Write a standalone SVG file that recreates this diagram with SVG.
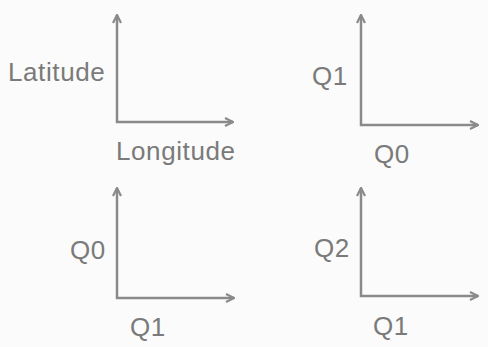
<svg xmlns="http://www.w3.org/2000/svg" width="488" height="347" viewBox="0 0 488 347">
<style>
.lbl{font-family:"Liberation Sans",Arial,sans-serif;font-size:26px;fill:#7a7a7a;letter-spacing:0.6px}
.ax{fill:none;stroke:#8a8a8a;stroke-width:2.5}
</style>
<defs>
<marker id="ah" viewBox="0 0 10 10" refX="9" refY="5" markerWidth="4" markerHeight="4" orient="auto-start-reverse" markerUnits="strokeWidth">
<path d="M1,1 L9,5 L1,9" fill="none" stroke="#8a8a8a" stroke-width="2.2" stroke-linejoin="miter"/>
</marker>
</defs>
<rect width="488" height="347" fill="#fbfbfb"/>
<g id="connectors">
<path class="ax" d="M117,15 V122 H233" marker-start="url(#ah)" marker-end="url(#ah)"/>
<path class="ax" d="M361,15 V125 H478" marker-start="url(#ah)" marker-end="url(#ah)"/>
<path class="ax" d="M117,188 V298 H234" marker-start="url(#ah)" marker-end="url(#ah)"/>
<path class="ax" d="M361,188 V296 H478" marker-start="url(#ah)" marker-end="url(#ah)"/>
</g>
<g id="plot1">
<text class="lbl" x="8" y="81">Latitude</text>
<text class="lbl" x="116" y="160">Longitude</text>
</g>
<g id="plot2">
<text class="lbl" x="312" y="85">Q1</text>
<text class="lbl" x="374" y="163">Q0</text>
</g>
<g id="plot3">
<text class="lbl" x="70" y="259">Q0</text>
<text class="lbl" x="130" y="336">Q1</text>
</g>
<g id="plot4">
<text class="lbl" x="314" y="257">Q2</text>
<text class="lbl" x="373" y="335">Q1</text>
</g>
</svg>
